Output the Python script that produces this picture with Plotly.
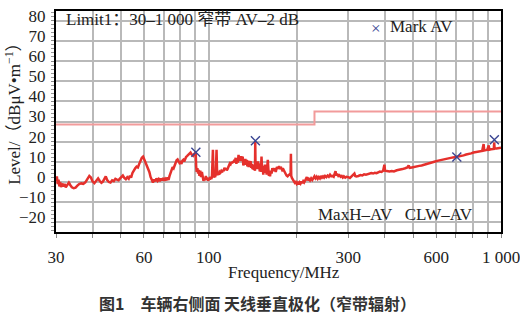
import plotly.graph_objects as go

# ---- data ----
freq_mhz = [30.0, 30.2, 30.4, 30.6, 30.8, 31.0, 31.2, 31.5, 31.8, 32.1, 32.4, 32.8, 33.2, 33.6, 34.0, 34.5,
            35.0, 35.5, 36.0, 36.6, 37.2, 37.8, 38.4, 39.0, 39.5, 40.0, 40.6, 41.2, 41.8, 42.3, 42.9, 43.4,
            44.0, 44.4, 44.9, 45.5, 46.1, 46.7, 47.3, 47.9, 48.5, 49.1, 49.7, 50.3, 50.8, 51.4, 52.0, 52.6,
            53.2, 53.7, 54.2, 54.8, 55.4, 56.0, 56.6, 57.2, 57.8, 58.4, 59.0, 59.6, 60.2, 60.8, 61.4, 62.0,
            62.6, 63.2, 63.8, 64.4, 65.0, 65.6, 66.2, 66.8, 67.4, 68.0, 68.6, 69.2, 69.8, 70.4, 71.0, 71.6,
            72.2, 72.8, 73.4, 74.0, 74.6, 75.2, 75.8, 76.4, 77.0, 77.6, 78.2, 78.8, 79.4, 80.0, 80.6, 81.2,
            81.8, 82.4, 83.0, 83.6, 84.2, 84.8, 85.4, 86.0, 86.6, 87.2, 87.8, 88.4, 89.0, 89.6, 90.2, 90.5,
            90.9, 91.4, 91.9, 92.4, 92.9, 93.5, 94.1, 94.7, 95.3, 95.9, 96.5, 97.1, 97.7, 98.3, 98.9, 99.5,
            100.1, 100.7, 101.3, 101.9, 102.5, 103.3, 103.8, 104.4, 105.0, 105.6, 106.3, 106.8, 107.5, 108.2,
            108.9, 109.6, 110.3, 111.0, 111.7, 112.4, 113.1, 113.8, 114.5, 115.2, 115.9, 116.6, 117.3, 118.0,
            118.7, 119.4, 120.1, 120.8, 121.5, 122.2, 122.9, 123.6, 124.3, 125.0, 125.7, 126.4, 127.1, 127.8,
            128.5, 129.2, 129.9, 130.6, 131.3, 132.0, 132.7, 133.4, 134.1, 134.8, 135.5, 136.2, 136.9, 137.6,
            138.3, 139.0, 139.7, 140.4, 141.1, 141.8, 142.5, 143.2, 143.9, 144.2, 144.5, 145.2, 145.9, 146.6,
            147.3, 148.0, 148.7, 149.4, 150.1, 150.8, 151.5, 152.2, 152.9, 153.6, 154.3, 155.0, 155.7, 156.4,
            157.1, 157.8, 158.5, 159.2, 159.9, 160.6, 161.3, 162.0, 163.0, 164.0, 165.0, 166.5, 168.0, 169.5,
            171.0, 172.5, 174.0, 175.5, 177.0, 178.5, 180.0, 181.5, 183.0, 184.5, 186.0, 187.5, 189.0, 190.5,
            191.0, 191.5, 192.5, 194.0, 195.5, 197.0, 198.5, 200.0, 201.5, 203.0, 204.5, 206.0, 207.5, 209.0,
            210.5, 212.0, 213.5, 215.0, 216.5, 218.0, 220.0, 222.0, 224.0, 226.0, 228.0, 230.0, 232.0, 234.0,
            236.0, 238.0, 240.0, 242.0, 244.0, 246.0, 248.0, 250.0, 252.5, 255.0, 257.5, 260.0, 262.5, 265.0,
            267.5, 270.0, 271.5, 273.0, 275.0, 277.5, 280.0, 282.5, 285.0, 287.5, 290.0, 293.0, 296.0, 300.0,
            304.0, 308.0, 312.0, 315.0, 317.0, 320.0, 325.0, 330.0, 335.0, 340.0, 345.0, 350.0, 355.0, 360.0,
            365.0, 370.0, 375.0, 380.0, 385.0, 390.0, 395.0, 399.0, 401.0, 407.0, 415.0, 423.0, 430.0, 440.0,
            450.0, 460.0, 470.0, 478.0, 483.0, 487.0, 495.0, 505.0, 515.0, 525.0, 535.0, 545.0, 555.0, 565.0,
            575.0, 585.0, 595.0, 610.0, 625.0, 640.0, 655.0, 670.0, 685.0, 700.0, 715.0, 730.0, 745.0, 760.0,
            775.0, 790.0, 805.0, 820.0, 835.0, 850.0, 862.0, 872.0, 876.0, 888.0, 898.0, 908.0, 912.0, 925.0,
            935.0, 945.0, 948.0, 951.0, 965.0, 980.0, 1000.0]
level_db = [0.5, 2.8, -1.0, 1.2, -2.2, 0.0, -2.5, -0.8, -2.2, -1.0, -2.6, -1.3, -0.3, -1.6, -2.6, -3.1,
            -2.8, -1.8, -1.0, -0.7, -0.9, -0.2, 1.2, 3.0, 2.2, 0.3, -0.6, 0.6, 1.8, 0.6, -0.4, 0.2,
            1.8, 2.8, 1.0, 0.0, -0.3, 0.8, 0.4, 1.6, 1.2, 0.9, 1.8, 2.5, 3.2, 2.0, 1.4, 2.4,
            1.6, 3.1, 2.2, 4.5, 6.0, 6.8, 7.6, 7.2, 9.0, 10.8, 12.0, 12.6, 11.2, 9.2, 8.4, 7.0,
            5.0, 2.5, 0.5, -0.2, 1.2, 0.4, 1.8, 0.6, 1.4, 0.4, 1.8, 0.8, 2.0, 0.6, 1.6, 0.9,
            2.2, 1.0, 3.0, 4.8, 6.2, 7.4, 6.8, 8.2, 9.4, 10.8, 11.2, 10.2, 9.4, 9.8, 9.0, 10.6,
            11.0, 10.2, 11.6, 12.4, 12.8, 13.2, 13.8, 14.2, 14.6, 13.8, 13.4, 13.0, 13.8, 14.2, 14.7, 8.0,
            5.0, 6.8, 4.2, 6.0, 3.0, 5.6, 2.4, 5.0, 1.6, 0.6, 1.8, 0.8, 3.0, 1.0, 2.2, 0.6,
            1.8, 1.2, 2.6, 1.4, 2.4, 16.0, 2.2, 3.4, 2.4, 3.6, 16.0, 3.4, 4.2, 3.6,
            5.0, 4.6, 5.4, 4.8, 6.0, 5.4, 7.0, 6.2, 6.8, 5.8, 6.4, 7.6, 8.4, 9.2,
            8.8, 9.8, 9.2, 10.2, 9.6, 11.0, 10.2, 12.0, 9.0, 11.4, 9.6, 13.4, 10.8, 12.0,
            10.4, 12.8, 11.2, 12.6, 8.2, 10.0, 8.6, 11.4, 9.0, 11.0, 7.8, 10.6, 7.4, 9.8,
            8.0, 10.4, 7.0, 9.0, 6.4, 8.6, 6.0, 7.4, 5.6, 20.0, 8.0, 6.6, 9.6, 6.4,
            10.2, 7.0, 9.2, 5.2, 7.6, 5.0, 12.6, 6.0, 8.0, 3.6, 7.2, 5.0, 8.6, 4.6,
            6.2, 3.6, 7.0, 11.0, 6.4, 3.0, 5.4, 2.8, 5.6, 4.2, 6.8, 5.4, 6.8, 5.0,
            7.4, 6.6, 7.8, 6.8, 7.0, 5.8, 6.2, 4.6, 4.2, 3.2, 2.8, 3.4, 3.8, 3.4,
            14.0, 3.0, 2.0, 1.0, 0.4, -0.4, 0.0, -1.0, -0.4, -1.2, -0.2, -0.8, 0.2, -0.6,
            0.4, -0.2, 0.6, 1.6, 2.4, 0.8, 1.6, 0.8, 1.8, 1.0, 2.2, 2.8, 1.8, 2.6,
            1.6, 2.4, 1.8, 3.0, 2.2, 2.8, 2.2, 3.0, 2.4, 3.2, 2.6, 3.6, 2.8, 3.0,
            2.6, 4.2, 5.4, 3.2, 4.0, 3.0, 3.4, 2.6, 3.0, 2.2, 2.8, 2.2, 2.6, 2.4,
            2.0, 2.8, 3.4, 4.2, 3.0, 2.8, 3.0, 3.4, 3.2, 3.8, 3.6, 4.0, 4.0, 4.4,
            4.2, 4.6, 4.4, 4.8, 5.2, 5.0, 5.6, 8.6, 5.6, 5.4, 5.2, 5.4, 5.2, 5.8,
            6.0, 6.4, 6.8, 7.2, 8.2, 7.0, 7.2, 7.6, 7.6, 8.0, 8.2, 8.6, 8.8, 9.2,
            9.4, 9.8, 10.2, 10.6, 11.0, 11.4, 11.6, 11.8, 12.2, 12.4, 12.6, 13.0, 13.2, 13.6,
            13.8, 14.2, 14.6, 14.8, 15.0, 15.2, 15.4, 18.8, 15.6, 15.8, 16.0, 18.2, 16.0, 16.2,
            16.4, 16.4, 19.6, 16.6, 16.6, 16.8, 17.0]

mark_freq = [90.3, 144.4, 706.0, 949.0]
mark_level = [14.7, 20.4, 12.4, 20.9]

limit_freq = [30, 230, 230, 1000]
limit_level = [28.5, 28.5, 35.0, 35.0]

x_tick_vals = [30, 60, 100, 300, 600, 1000]
x_tick_text = ["30", "60", "100", "300", "600", "1 000"]
x_minor_vals = [40, 50, 70, 80, 90, 200, 400, 500, 700, 800, 900]
y_tick_vals = [-20, -10, 0, 10, 20, 30, 40, 50, 60, 70, 80]

SERIF = "Liberation Serif, Times New Roman, Noto Sans CJK SC, serif"
GRID = "#b9b9b9"
RED = "#e5302c"
BLUE = "#3a4592"
FS = 17

fig = go.Figure()
fig.add_trace(go.Scatter(x=limit_freq, y=limit_level, mode="lines",
                         line=dict(color="#f29b9b", width=2), hoverinfo="skip"))
fig.add_trace(go.Scatter(x=freq_mhz, y=level_db, mode="lines",
                         line=dict(color=RED, width=2.5)))
fig.add_trace(go.Scatter(x=mark_freq, y=mark_level, mode="markers",
                         marker=dict(symbol="x-thin", size=9, line=dict(color=BLUE, width=1.4))))

fig.update_layout(
    width=520, height=323,
    margin=dict(l=56, r=19, t=11, b=91),
    paper_bgcolor="white", plot_bgcolor="white",
    showlegend=False,
    font=dict(family=SERIF, size=FS, color="#222"),
    xaxis=dict(type="log", range=[1.4771, 3.0],
               tickmode="array", tickvals=x_tick_vals, ticktext=x_tick_text,
               showgrid=True, gridcolor=GRID, gridwidth=1.5,
               ticks="outside", ticklen=4, tickcolor="#888",
               showline=True, linecolor="black", linewidth=2, mirror=True,
               zeroline=False, automargin=False, ticklabeloverflow="allow",
               tickfont=dict(family=SERIF, size=FS, color="#222"),
               ticklabelstandoff=5,
               minor=dict(tickvals=x_minor_vals, showgrid=True, gridcolor=GRID, gridwidth=1.5,
                          ticks="outside", ticklen=4, tickcolor="#888")),
    yaxis=dict(range=[-24.8, 84.8], tickmode="array", tickvals=y_tick_vals,
               showgrid=True, gridcolor=GRID, gridwidth=1.5,
               ticks="outside", ticklen=3, tickcolor="#888",
               showline=True, linecolor="black", linewidth=2, mirror=True,
               zeroline=False, automargin=False, ticklabeloverflow="allow",
               tickfont=dict(family=SERIF, size=FS, color="#222"),
               ticklabelshift=-5, ticklabelstandoff=2,
               minor=dict(dtick=2, ticks="outside", ticklen=3, tickcolor="#999", showgrid=False)),
)


def px_ann(text, x, y, xanchor="left", color="#222", size=FS, family=SERIF, angle=0, bold=False):
    # place text at figure pixel coordinates, converted to plot-area paper coordinates
    px = (x - 56) / 445.0
    py = (232.3 - y) / 221.3
    fig.add_annotation(text=f"<b>{text}</b>" if bold else text, xref="paper", yref="paper",
                       x=px, y=py, xanchor=xanchor, yanchor="middle", showarrow=False,
                       textangle=angle, font=dict(family=family, size=size, color=color))


px_ann("Limit1：30–1 000 窄带 AV–2 dB", 64, 20)
px_ann("×", 376, 29, "center", color=BLUE, size=17)
px_ann("Mark AV", 388, 27)
px_ann("MaxH–AV   CLW–AV", 316, 215)
px_ann("Frequency/MHz", 284, 273, "center")
px_ann("Level/（dBμV•m<sup>−1</sup>）", 13, 110, "center", angle=-90)
px_ann("图1　车辆右侧面 天线垂直极化（窄带辐射）", 257, 303, "center",
       color="#333", size=16, family="Noto Sans CJK SC, sans-serif", bold=True)

fig.write_html("out.html")
